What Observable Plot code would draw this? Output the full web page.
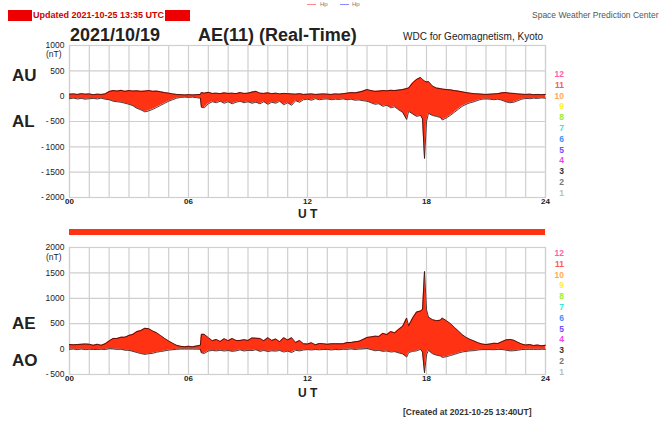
<!DOCTYPE html>
<html>
<head>
<meta charset="utf-8">
<script src="https://cdn.jsdelivr.net/npm/d3@7"></script>
<script src="https://cdn.jsdelivr.net/npm/@observablehq/plot@0.6"></script>
<style>
  html, body { margin: 0; padding: 0; background: #fff; }
  #root { position: relative; width: 663px; height: 423px; overflow: hidden; font-family: 'Liberation Sans', Arial, sans-serif; }
  .abs { position: absolute; white-space: nowrap; }
  .plot { position: absolute; left: 0; }
  .big { font-size: 17px; font-weight: bold; color: #222; }
  .kp { position: absolute; font-size: 8.5px; font-weight: bold; text-align: right; width: 14px; line-height: 10px; }
</style>
</head>
<body>
<div id="root"></div>
<script>
// ---------- data ----------
const dateLabel = "2021/10/19";
const titleLabel = "AE(11) (Real-Time)";
const hours = [0,0.2,0.4,0.6,0.8,1.0,1.2,1.4,1.6,1.8,2.0,2.2,2.4,2.6,2.8,3.0,3.2,3.4,3.6,3.8,4.0,4.2,4.4,4.6,4.8,5.0,5.2,5.4,5.6,5.8,6.0,6.2,6.4,6.6,6.65,6.8,7.0,7.2,7.4,7.6,7.8,8.0,8.2,8.4,8.6,8.8,9.0,9.2,9.4,9.6,9.8,10.0,10.2,10.4,10.6,10.8,11.0,11.2,11.4,11.6,11.8,12.0,12.2,12.4,12.6,12.8,13.0,13.2,13.4,13.6,13.8,14.0,14.2,14.4,14.6,14.8,15.0,15.2,15.4,15.6,15.8,16.0,16.2,16.4,16.6,16.8,17.0,17.1,17.3,17.5,17.7,17.8,17.9,18.0,18.1,18.3,18.5,18.7,18.8,19.0,19.2,19.4,19.6,19.8,20.0,20.2,20.4,20.6,20.8,21.0,21.2,21.4,21.6,21.8,22.0,22.2,22.4,22.6,22.8,23.0,23.2,23.4,23.6,23.8,24.0];
const AU = [40,45,35,50,40,45,30,40,35,45,90,110,100,115,95,110,100,105,95,100,110,95,100,85,70,60,45,35,30,25,30,25,30,35,70,60,75,55,60,50,65,55,60,50,70,55,60,80,95,60,55,65,50,60,45,55,50,45,40,50,35,40,45,35,40,45,40,35,45,40,50,60,70,65,80,100,130,110,95,100,110,105,115,110,120,130,150,160,260,330,370,330,300,280,290,200,160,150,140,130,125,110,100,85,70,60,50,45,40,35,40,45,50,65,70,60,55,45,40,35,40,30,35,30,35];
const AL = [-50,-40,-55,-45,-60,-50,-45,-55,-40,-60,-70,-100,-110,-120,-140,-160,-190,-240,-270,-310,-290,-260,-220,-180,-140,-100,-70,-40,-25,-20,-25,-20,-30,-40,-220,-230,-150,-110,-130,-100,-140,-110,-150,-120,-100,-130,-110,-140,-120,-150,-110,-160,-120,-140,-100,-170,-130,-180,-90,-120,-70,-60,-80,-50,-70,-60,-55,-70,-60,-65,-55,-70,-60,-80,-75,-90,-100,-130,-160,-150,-200,-180,-230,-210,-270,-320,-460,-300,-350,-400,-380,-450,-1230,-500,-340,-380,-400,-420,-470,-430,-380,-320,-260,-200,-160,-130,-110,-80,-60,-55,-60,-70,-60,-80,-110,-130,-120,-90,-60,-45,-50,-40,-45,-35,-40];
const hourGrid = [0,1,2,3,4,5,6,7,8,9,10,11,12,13,14,15,16,17,18,19,20,21,22,23,24];
const xTicks = [0,6,12,18,24];
const xTickLabels = ["00","06","12","18","24"];
const topYTicks = [1000,500,0,-500,-1000,-1500,-2000];
const bottomYTicks = [2000,1500,1000,500,0,-500];
const kpLabels = ["12","11","10","9","8","7","6","5","4","3","2","1"];
const kpColors = ["#ff5fa8","#ff5a50","#ffaa55","#ffee33","#99ee33","#33e8d8","#3f8fff","#6a50ff","#f040f0","#333333","#777777","#bbbbbb"];

const rows = hours.map((h, i) => ({h, AU: AU[i], AL: AL[i], AE: AU[i] - AL[i], AO: (AU[i] + AL[i]) / 2}));

const FONT = "'Liberation Sans', Arial, sans-serif";
const FILL = "#ff3214";
const EDGE = "#2a0808";
const GRID = "#cfcfcf";
const root = document.getElementById("root");

function yFmt(topVal) {
  return d => d === topVal ? String(d) : d < 0 ? "-\u2009" + (-d) : String(d);
}
function xFmt(d) { return xTickLabels[xTicks.indexOf(d)]; }

function panel(domain, yTicks, lowKey, highKey, mTop, mBottom) {
  return Plot.plot({
    width: 663, height: 175,
    marginTop: mTop, marginBottom: mBottom, marginLeft: 69, marginRight: 118,
    x: {domain: [0, 24]},
    y: {domain},
    style: {fontFamily: FONT, fontSize: "8.5px", color: "#222", background: "transparent", overflow: "visible"},
    marks: [
      Plot.gridX(hourGrid, {stroke: GRID, strokeOpacity: 1, strokeWidth: 1.2}),
      Plot.gridY(yTicks, {stroke: GRID, strokeOpacity: 1, strokeWidth: 1.2}),
      Plot.frame({stroke: GRID, strokeWidth: 1.2}),
      Plot.areaY(rows, {x: "h", y1: lowKey, y2: highKey, fill: FILL}),
      Plot.lineY(rows, {x: "h", y: highKey, stroke: EDGE, strokeWidth: 0.8}),
      Plot.lineY(rows, {x: "h", y: lowKey, stroke: EDGE, strokeWidth: 0.8}),
      Plot.axisX(xTicks, {tickSize: 0, tickPadding: 1, tickFormat: xFmt, fontWeight: "bold", fontSize: 8, label: null}),
      Plot.axisY(yTicks, {tickSize: 0, tickPadding: 5, tickFormat: yFmt(domain[1]), label: null})
    ]
  });
}

// top panel: AU / AL
const topPlot = panel([-2000, 1000], topYTicks, "AL", "AU", 5, 18);
topPlot.classList.add("plot"); topPlot.style.top = "40px";
root.appendChild(topPlot);

// data-coverage bar
const barPlot = Plot.plot({
  width: 663, height: 6, marginTop: 0, marginBottom: 0, marginLeft: 69, marginRight: 118,
  x: {domain: [0, 24], axis: null}, y: {axis: null},
  style: {background: "transparent"},
  marks: [Plot.rect([{x1: 0, x2: 24}], {x1: "x1", x2: "x2", fill: FILL})]
});
barPlot.classList.add("plot"); barPlot.style.top = "229px";
root.appendChild(barPlot);

// bottom panel: AE / AO
const bottomPlot = panel([-500, 2000], bottomYTicks, "AO", "AE", 27, 21);
bottomPlot.classList.add("plot"); bottomPlot.style.top = "220px";
root.appendChild(bottomPlot);

// ---------- texts ----------
function addText(txt, css) {
  const d = document.createElement("div");
  d.className = "abs";
  d.textContent = txt;
  Object.assign(d.style, css);
  root.appendChild(d);
  return d;
}
// updated banner
const banner = document.createElement("div");
banner.className = "abs";
Object.assign(banner.style, {left: "8px", top: "10px", width: "182px", height: "11px", background: "#ee0000"});
root.appendChild(banner);
addText("Updated 2021-10-25 13:35 UTC", {left: "32px", top: "10px", height: "11px", lineHeight: "11px", background: "#fff", color: "#cc0000", fontSize: "9px", fontWeight: "bold", padding: "0 1px"});

// Hp legend
const lg1 = document.createElement("div"); lg1.className = "abs";
Object.assign(lg1.style, {left: "307px", top: "4px", width: "9px", height: "1px", background: "#ff8a8a"}); root.appendChild(lg1);
addText("Hp", {left: "320px", top: "0px", fontSize: "6px", color: "#777", lineHeight: "9px"});
const lg2 = document.createElement("div"); lg2.className = "abs";
Object.assign(lg2.style, {left: "340px", top: "4px", width: "9px", height: "1px", background: "#8a8aff"}); root.appendChild(lg2);
addText("Hp", {left: "352px", top: "0px", fontSize: "6px", color: "#777", lineHeight: "9px"});

addText("Space Weather Prediction Center", {left: "532px", top: "10px", fontSize: "8.5px", color: "#555", lineHeight: "10px"});

addText(dateLabel, {left: "70px", top: "25px", fontSize: "18px", fontWeight: "bold", color: "#222", lineHeight: "20px"});
addText(titleLabel, {left: "198px", top: "25px", fontSize: "18px", fontWeight: "bold", color: "#222", lineHeight: "20px"});
addText("WDC for Geomagnetism, Kyoto", {left: "403px", top: "31px", fontSize: "10px", color: "#222", lineHeight: "11px"});

// units
addText("(nT)", {left: "46px", top: "49px", fontSize: "8.5px", color: "#222", lineHeight: "10px"});
addText("(nT)", {left: "46px", top: "252px", fontSize: "8.5px", color: "#222", lineHeight: "10px"});

// side labels
addText("AU", {left: "12px", top: "66px", lineHeight: "19px"}).classList.add("big");
addText("AL", {left: "12px", top: "112px", lineHeight: "19px"}).classList.add("big");
addText("AE", {left: "12px", top: "314px", lineHeight: "19px"}).classList.add("big");
addText("AO", {left: "12px", top: "351px", lineHeight: "19px"}).classList.add("big");

// UT labels
addText("U T", {left: "298px", top: "208px", fontSize: "12px", fontWeight: "bold", color: "#222", lineHeight: "12px"});
addText("U T", {left: "298px", top: "387px", fontSize: "12px", fontWeight: "bold", color: "#222", lineHeight: "12px"});

// Kp colour scales
function kpScale(y0) {
  kpLabels.forEach((lab, i) => {
    const s = document.createElement("div");
    s.className = "kp";
    s.textContent = lab;
    s.style.left = "550px";
    s.style.top = (y0 + i * 10.8) + "px";
    s.style.color = kpColors[i];
    root.appendChild(s);
  });
}
kpScale(69);
kpScale(248);

addText("[Created at 2021-10-25 13:40UT]", {left: "403px", top: "407px", fontSize: "8.5px", fontWeight: "bold", color: "#333", lineHeight: "10px"});
</script>
</body>
</html>
